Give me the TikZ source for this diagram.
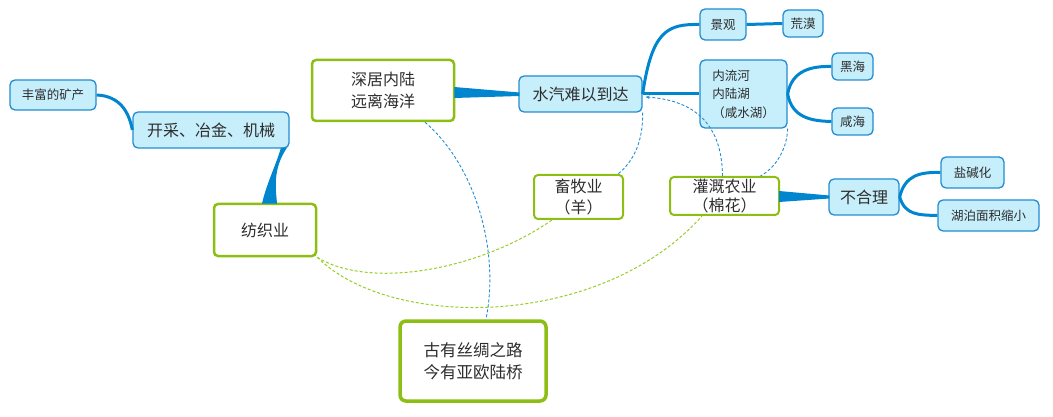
\documentclass[tikz,border=0pt]{standalone}
\usepackage{fontspec}
\setmainfont{Noto Sans CJK SC}
\usepackage{tikz}
\usetikzlibrary{arrows.meta,calc}
\definecolor{mapblue}{RGB}{0,133,207}
\definecolor{boxfill}{RGB}{198,238,251}
\definecolor{boxline}{RGB}{35,140,210}
\definecolor{mapgreen}{RGB}{140,190,20}
\definecolor{dashgreen}{RGB}{150,205,40}
\definecolor{ink}{RGB}{45,45,45}
\begin{document}
\begin{tikzpicture}[x=1pt,y=-1pt,>=Stealth,
        bluebox/.style={draw=boxline,fill=boxfill,line width=1.3pt,rounded corners=5pt,inner sep=0pt,text=ink,font=\fontsize{12.5}{18.5}\selectfont},
        bigblue/.style={bluebox,font=\fontsize{16}{21}\selectfont},
        greenbox/.style={draw=mapgreen,fill=white,line width=2.5pt,rounded corners=4pt,inner sep=0pt,text=ink,align=center,font=\fontsize{16}{21.5}\selectfont},
        limb/.style={draw=mapblue,line width=3pt},
        wedge/.style={fill=mapblue},
        bluedash/.style={draw=boxline,line width=0.9pt,dash pattern=on 3pt off 2pt},
        greendash/.style={draw=dashgreen,line width=1pt,dash pattern=on 3pt off 2pt}]
        \useasboundingbox (0,0) rectangle (1053,417);
        \node[bluebox,minimum width=86,minimum height=30] (kuang) at (53,95) {丰富的矿产};
        \node[bigblue,minimum width=156,minimum height=36] (kaicai) at (211,130) {开采、冶金、机械};
        \node[greenbox,minimum width=102,minimum height=52] (fangzhi) at (265,230) {纺织业};
        \node[greenbox,minimum width=142,minimum height=61] (shenju) at (383,90.5) {深居内陆\\远离海洋};
        \node[bigblue,minimum width=123,minimum height=36] (shuiqi) at (580.5,94) {水汽难以到达};
        \node[bluebox,minimum width=46,minimum height=31] (jingguan) at (723,24.5) {景观};
        \node[bluebox,minimum width=40,minimum height=27] (huangmo) at (803,23.5) {荒漠};
        \node[bluebox,minimum width=87,minimum height=68,align=left] (neiliu) at (743.5,94) {内流河\\内陆湖\\（咸水湖）};
        \node[bluebox,minimum width=41,minimum height=27] (heihai) at (852.5,66.5) {黑海};
        \node[bluebox,minimum width=41,minimum height=27] (xianhai) at (852.5,121.5) {咸海};
        \node[greenbox,line width=2pt,minimum width=89,minimum height=44] (xumu) at (578.5,197) {畜牧业\\（羊）};
        \node[greenbox,line width=2pt,minimum width=109,minimum height=38,font=\fontsize{16}{19}\selectfont] (guangai) at (724.5,196) {灌溉农业\\（棉花）};
        \node[bigblue,minimum width=70,minimum height=36] (buheli) at (864,197) {不合理};
        \node[bluebox,minimum width=63,minimum height=31] (yanjian) at (972.5,172.5) {盐碱化};
        \node[bluebox,minimum width=101,minimum height=31] (hupo) at (988.5,215.5) {湖泊面积缩小};
        \node[greenbox,line width=3.5pt,minimum width=146,minimum height=80,rounded corners=6pt,font=\fontsize{16.5}{22}\selectfont] (silu) at (473,361) {古有丝绸之路\\今有亚欧陆桥};

        \draw[limb] (kuang.east) .. controls (120,96) and (129,112) .. (kaicai.west);
        \fill[wedge] ($(kaicai.south)+(70,-1)$) -- ($(kaicai.south)+(76,-1)$) .. controls (272,170) and (276,190) .. ($(fangzhi.north)+(12,1)$) -- ($(fangzhi.north)+(-3,1)$) .. controls (266,185) and (276,165) .. cycle;
        \fill[wedge] ($(shenju.east)+(-1,-3.5)$) -- ($(shenju.east)+(-1,7.5)$) -- ($(shuiqi.west)+(1,2)$) -- ($(shuiqi.west)+(1,-1.5)$) -- cycle;
        \fill[wedge] ($(guangai.east)+(-1,-5)$) -- ($(guangai.east)+(-1,6)$) -- ($(buheli.west)+(1,1.5)$) -- ($(buheli.west)+(1,-1.5)$) -- cycle;
        \draw[limb] (shuiqi.east) .. controls (652,30) and (668,24) .. (jingguan.west);
        \draw[limb] (shuiqi.east) -- (neiliu.west);
        \draw[limb] (jingguan.east) -- (huangmo.west);
        \draw[limb] (neiliu.east) .. controls (792,70) and (812,66) .. (heihai.west);
        \draw[limb] (neiliu.east) .. controls (792,118) and (812,121) .. (xianhai.west);
        \draw[limb] (buheli.east) .. controls (905,175) and (920,172) .. (yanjian.west);
        \draw[limb] (buheli.east) .. controls (905,215) and (918,215) .. (hupo.west);

        \draw[bluedash] ($(shenju.south)+(42,0)$) .. controls (475,165) and (500,250) .. ($(silu.north)+(13,0)$);
        \draw[bluedash] (shuiqi.south east) .. controls (643,140) and (635,160) .. ($(xumu.north east)+(-6,0)$);
        \draw[bluedash,->,>={Stealth[length=4pt,width=3.5pt]}] ($(guangai.north)+(-2,0)$) .. controls (722,120) and (690,100) .. ($(shuiqi.east)+(3,3)$);
        \draw[bluedash] (neiliu.south east) .. controls (787,150) and (775,168) .. ($(guangai.north east)+(-19.5,0)$);
        \draw[greendash] (fangzhi.south east) .. controls (370,290) and (480,270) .. ($(xumu.south west)+(19,0)$);
        \draw[greendash] (fangzhi.south east) .. controls (390,330) and (600,330) .. ($(guangai.south west)+(33,0)$);
\end{tikzpicture}
\end{document}
